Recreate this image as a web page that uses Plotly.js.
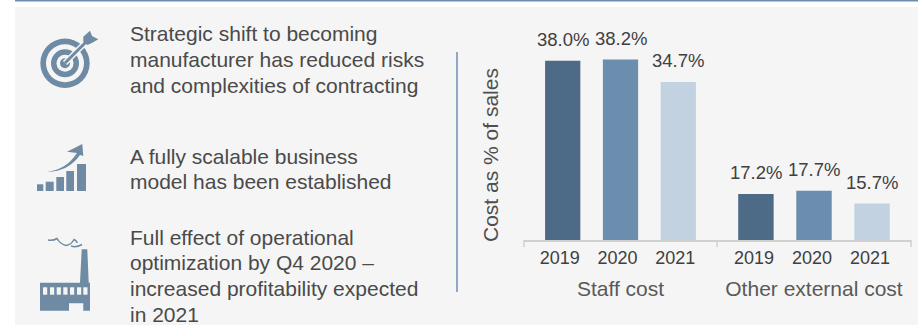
<!DOCTYPE html>
<html>
<head>
<meta charset="utf-8">
<script src="https://cdn.plot.ly/plotly-3.0.1.min.js"></script>
<style>html,body{margin:0;padding:0;background:#fff}#chart{width:918px;height:325px}</style>
</head>
<body>
<div id="chart"></div>
<script>
const years = ['2019', '2020', '2021'];
const staffCost = [38.0, 38.2, 34.7];
const otherCost = [17.2, 17.7, 15.7];
const barColors = ['#4d6a87', '#6b8dae', '#c3d2e0'];
const groupNames = ['Staff cost', 'Other external cost'];
const axisTitle = 'Cost as % of sales';
const notes = [
  ['Strategic shift to becoming', 'manufacturer has reduced risks', 'and complexities of contracting'],
  ['A fully scalable business', 'model has been established'],
  ['Full effect of operational', 'optimization by Q4 2020 –', 'increased profitability expected', 'in 2021']
];

const W = 918, H = 325;
const FONT = '"Liberation Sans", Arial, sans-serif';
const ICON = '#6f8aa3', PANEL = '#f5f5f5';
const fx = x => x / W, fy = y => 1 - y / H;

// Converts "x,y" pixel pairs in a path string to paper fractions.
const toPaper = d => d.replace(/(-?[\d.]+),(-?[\d.]+)/g, (_, x, y) => `${fx(+x)},${fy(+y)}`);
const box = (x0, y0, x1, y1, color, layer) => ({
  type: 'rect', xref: 'paper', yref: 'paper', x0: fx(x0), x1: fx(x1), y0: fy(y0), y1: fy(y1),
  fillcolor: color, line: {width: 0}, layer: layer || 'above'
});
const disc = (cx, cy, r, color) => ({
  type: 'circle', xref: 'paper', yref: 'paper', x0: fx(cx - r), x1: fx(cx + r), y0: fy(cy - r), y1: fy(cy + r),
  fillcolor: color, line: {width: 0}
});
const poly = (d, color) => ({
  type: 'path', xref: 'paper', yref: 'paper', path: toPaper(d), fillcolor: color, line: {width: 0}
});
const stroke = (d, color, width) => ({
  type: 'path', xref: 'paper', yref: 'paper', path: toPaper(d), line: {color: color, width: width}
});

const targetIcon = [
  disc(65, 63.3, 24.7, ICON), disc(65, 63.3, 19, PANEL), disc(65, 63.3, 14, ICON),
  disc(65, 63.3, 8.5, PANEL), disc(65, 63.3, 5, ICON),
  stroke('M 65,63 L 89,39', PANEL, 6), stroke('M 65,63 L 89,39', ICON, 3),
  poly('M 90,30.7 L 92,36 L 98.3,39.3 L 92.3,42.7 L 87.3,45 L 83.3,41.7 L 83.3,36.7 Z', ICON)
];
const growthIcon = [
  box(37, 184.3, 43.3, 191, ICON), box(45.7, 181.7, 53.7, 191, ICON), box(56.3, 177, 64, 191, ICON),
  box(66.3, 171, 74, 191, ICON), box(77, 164, 86, 191, ICON),
  poly('M 46.7,171.7 Q 66,170 77,153 L 67,151.7 L 82.3,144 L 83.3,156 L 80,155 Q 68,172 46.7,171.7 Z', ICON)
];
const factoryIcon = [
  poly('M 40,282.7 L 80,282.7 L 81.7,249.3 L 87.3,249.3 L 88.7,282.7 L 90,282.7 L 90,310.7 L 83.3,310.7 L 83.3,303.3 L 69,303.3 L 69,310.7 L 40,310.7 Z', ICON),
  ...[43, 50, 56.7, 63.3, 70, 77, 83.3].map(x => box(x, 287.3, x + 4.2, 294.7, PANEL)),
  stroke('M 48,240 Q 53,241 57,238.5 Q 60,244 66,245.5 Q 71,245 74,239.5 Q 77,241 77,243 M 71,246 Q 76,248 82,244.5', ICON, 1.5)
];

const shapes = [
  box(15, 7, W, H, PANEL, 'below'),
  box(15, 0, W, 1.5, '#6a8fb3', 'below'),
  box(456, 52, 458, 292, '#8fa9c4', 'below'),
  ...targetIcon, ...growthIcon, ...factoryIcon,
  // group boundary ticks on the category axis
  ...[524, 717, 911].map(x => box(x - 0.75, 240, x + 0.75, 247, '#d0d0d0'))
];

// One annotation per line so the line pitch stays at 25.7px.
const noteLines = (lines, firstCentre) => lines.map((text, i) => ({
  text: text, xref: 'paper', yref: 'paper', x: fx(128.7), y: fy(firstCentre + i * 25.7),
  xanchor: 'left', yanchor: 'middle', align: 'left', showarrow: false, borderpad: 0,
  font: {family: FONT, size: 21, color: '#4a4a4a'}
}));

// Value labels sit a fixed distance above each bar top, on the data scale.
// Year names look numeric, so the category axis is addressed by index here.
const valueLabels = (values, xa, ya) => values.map((v, i) => ({
  text: v.toFixed(1) + '%', xref: xa, yref: ya, x: i, y: v, yshift: 21,
  xanchor: 'center', yanchor: 'middle', showarrow: false,
  font: {family: FONT, size: 18.5, color: '#404040'}
}));

const barTrace = (values, xa, ya) => ({
  type: 'bar', x: years, y: values, xaxis: xa, yaxis: ya, width: 0.61,
  marker: {color: barColors, line: {width: 0}}, hoverinfo: 'skip'
});

const catAxis = (left, right, title, anchor, shift) => ({
  domain: [fx(left), fx(right)], anchor: anchor, type: 'category', range: [-0.67, 2.67],
  showgrid: false, zeroline: false, showline: true, linecolor: '#d0d0d0', linewidth: 2, ticks: '',
  tickfont: {family: FONT, size: 18, color: '#404040'}, automargin: false, ticklabelshift: shift,
  title: {text: title, standoff: 15, font: {family: FONT, size: 21, color: '#595959'}}
});
const valAxis = anchor => ({
  domain: [fy(240), fy(20)], range: [10, 44.375], anchor: anchor, visible: false, fixedrange: true
});

Plotly.newPlot('chart', [barTrace(staffCost, 'x', 'y'), barTrace(otherCost, 'x2', 'y2')], {
  width: W, height: H, margin: {l: 0, r: 0, t: 0, b: 0},
  paper_bgcolor: '#ffffff', plot_bgcolor: 'rgba(0,0,0,0)', showlegend: false,
  xaxis: catAxis(524, 717, groupNames[0], 'y', -3),
  xaxis2: catAxis(717, 911, groupNames[1], 'y2', -2),
  yaxis: valAxis('x'),
  yaxis2: valAxis('x2'),
  shapes: shapes,
  annotations: [
    ...noteLines(notes[0], 34), ...noteLines(notes[1], 156), ...noteLines(notes[2], 237),
    ...valueLabels(staffCost, 'x', 'y'), ...valueLabels(otherCost, 'x2', 'y2'),
    {text: axisTitle, xref: 'paper', yref: 'paper', x: fx(490), y: fy(155), textangle: -90,
     showarrow: false, font: {family: FONT, size: 21, color: '#4f4f4f'}}
  ]
}, {displayModeBar: false, staticPlot: true});
</script>
</body>
</html>
